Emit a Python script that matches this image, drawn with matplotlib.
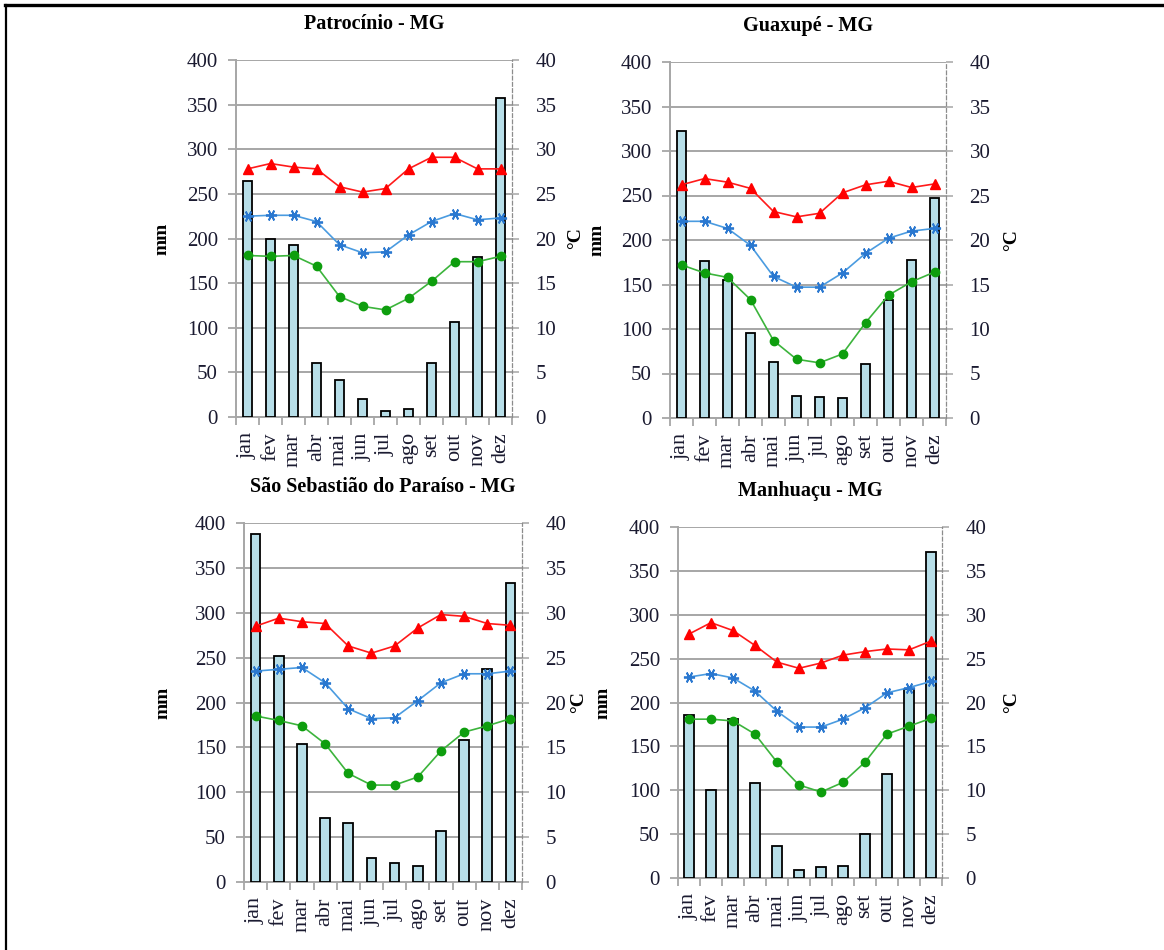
import matplotlib
matplotlib.use('Agg')
import matplotlib.pyplot as plt
from matplotlib.lines import Line2D
from matplotlib.ticker import MultipleLocator
import numpy as np

plt.rcParams.update({
    'font.family': 'Liberation Serif',
    'font.size': 15,
})

MONTHS = ['jan', 'fev', 'mar', 'abr', 'mai', 'jun', 'jul', 'ago', 'set', 'out', 'nov', 'dez']

# Patrocínio - MG
pat_rain = [264, 199, 193, 61, 41, 20, 7, 9, 61, 106, 179, 357]
pat_tmax = [27.8, 28.4, 28.0, 27.8, 25.8, 25.2, 25.6, 27.8, 29.1, 29.1, 27.8, 27.8]
pat_tmed = [22.5, 22.6, 22.6, 21.9, 19.3, 18.4, 18.5, 20.4, 21.9, 22.8, 22.1, 22.3]
pat_tmin = [18.1, 18.0, 18.1, 16.9, 13.5, 12.4, 12.0, 13.3, 15.2, 17.4, 17.4, 18.0]

# Guaxupé - MG
gua_rain = [323, 176, 155, 95, 63, 25, 24, 22, 61, 133, 178, 247]
gua_tmax = [26.2, 26.9, 26.5, 25.8, 23.2, 22.6, 23.0, 25.3, 26.2, 26.6, 25.9, 26.3]
gua_tmed = [22.1, 22.1, 21.3, 19.4, 15.9, 14.7, 14.7, 16.3, 18.5, 20.2, 21.0, 21.3]
gua_tmin = [17.2, 16.3, 15.8, 13.3, 8.7, 6.6, 6.2, 7.2, 10.7, 13.8, 15.3, 16.4]

# São Sebastião do Paraíso - MG
ssp_rain = [388, 252, 154, 71, 66, 27, 21, 18, 57, 158, 237, 333]
ssp_tmax = [28.5, 29.4, 29.0, 28.8, 26.3, 25.5, 26.3, 28.3, 29.8, 29.6, 28.8, 28.6]
ssp_tmed = [23.5, 23.7, 23.9, 22.2, 19.3, 18.2, 18.3, 20.2, 22.2, 23.2, 23.2, 23.5]
ssp_tmin = [18.5, 18.0, 17.4, 15.4, 12.1, 10.8, 10.8, 11.7, 14.6, 16.7, 17.4, 18.2]

# Manhuaçu - MG
man_rain = [186, 100, 181, 108, 37, 9, 12, 14, 50, 119, 215, 372]
man_tmax = [27.8, 29.1, 28.2, 26.5, 24.6, 23.9, 24.5, 25.4, 25.8, 26.1, 26.0, 27.0]
man_tmed = [22.9, 23.3, 22.8, 21.3, 19.0, 17.2, 17.2, 18.1, 19.4, 21.1, 21.7, 22.4]
man_tmin = [18.1, 18.1, 17.9, 16.4, 13.2, 10.6, 9.8, 10.9, 13.2, 16.4, 17.3, 18.2]

TITLES = ['Patrocínio - MG', 'Guaxupé - MG', 'São Sebastião do Paraíso - MG', 'Manhuaçu - MG']
RAIN = [pat_rain, gua_rain, ssp_rain, man_rain]
TMAX = [pat_tmax, gua_tmax, ssp_tmax, man_tmax]
TMED = [pat_tmed, gua_tmed, ssp_tmed, man_tmed]
TMIN = [pat_tmin, gua_tmin, ssp_tmin, man_tmin]

# layout (pixels: left, top, right, bottom) and label offsets (axes coords)
W, H = 1164, 950
BOXES = [(236, 60, 512, 417), (670, 62, 946, 418),
         (244, 523, 522, 882), (678, 527, 942, 878)]
MM_X = [-0.239, -0.232, -0.259, -0.25]   # right edge of the rotated 'mm'
C_X = [1.198, 1.207, 1.172, 1.231]       # left edge of the rotated '°C'

GRID = '#A6A6A6'
TXT = '#1A1A30'
BAR = '#B7DEE8'

fig = plt.figure(figsize=(W / 100, H / 100), dpi=100)

# page frame (top and left edges)
fig.add_artist(Line2D([5 / W, 1], [1 - 5 / H, 1 - 5 / H], color='black', lw=2.4))
fig.add_artist(Line2D([6 / W, 6 / W], [0, 1 - 5 / H], color='black', lw=1.6))

x = np.arange(len(MONTHS))
for i in range(4):
    l, t, r, b = BOXES[i]
    ax = fig.add_axes([l / W, 1 - b / H, (r - l) / W, (b - t) / H])

    ax.bar(x, RAIN[i], width=0.42, color=BAR, edgecolor='black', linewidth=1.3, zorder=3)
    ax.set_xlim(-0.5, 11.5)
    ax.set_ylim(0, 400)
    ax.yaxis.set_major_locator(MultipleLocator(50))
    ax.grid(axis='y', color=GRID, linewidth=1.4, zorder=0)
    ax.set_axisbelow(True)

    for s in ['top', 'right']:
        ax.spines[s].set_visible(False)
    for s in ['left', 'bottom']:
        ax.spines[s].set_color(GRID)
        ax.spines[s].set_linewidth(1.4)

    ax.set_xticks(x)
    ax.set_xticklabels(MONTHS, rotation=90, fontsize=16)
    ax.set_xticks(np.arange(-0.5, 12, 1), minor=True)
    ax.tick_params(axis='x', which='major', length=0, pad=11, colors=TXT)
    ax.tick_params(axis='x', which='minor', length=6, width=1.3, color=GRID)
    ax.tick_params(axis='y', length=6, width=1.3, color=GRID, labelcolor=TXT, pad=7)

    ax.set_title(TITLES[i], fontsize=14.5, fontweight='bold', pad=22)
    ax.set_ylabel('mm', fontsize=14, fontweight='bold')
    ax.yaxis.set_label_coords(MM_X[i], 0.5)

    ax2 = ax.twinx()
    ax2.set_ylim(0, 40)
    ax2.yaxis.set_major_locator(MultipleLocator(5))
    for s in ['top', 'left', 'bottom']:
        ax2.spines[s].set_visible(False)
    ax2.spines['right'].set_color('#8C8C8C')
    ax2.spines['right'].set_linestyle((0, (3, 2)))
    ax2.spines['right'].set_linewidth(0.9)
    ax2.tick_params(axis='y', length=5, width=1.1, color=GRID, labelcolor=TXT, pad=12)

    ax2.plot(x, TMAX[i], color='#FF1A1A', lw=1.2, marker='^', ms=7,
             mfc='#FF0000', mec='#FF0000', zorder=5)
    ax2.plot(x, TMED[i], color='#4A9BE0', lw=1.2, marker=(6, 2, 90), ms=8,
             mec='#2A78D0', mew=1.3, zorder=5)
    ax2.plot(x, TMIN[i], color='#3CB43C', lw=1.2, marker='o', ms=6,
             mfc='#0E9E0E', mec='#0E9E0E', zorder=5)

    ax2.set_ylabel('°C', fontsize=14, fontweight='bold', rotation=90)
    ax2.yaxis.set_label_coords(C_X[i], 0.5)

fig.savefig('out.png', dpi=100)
